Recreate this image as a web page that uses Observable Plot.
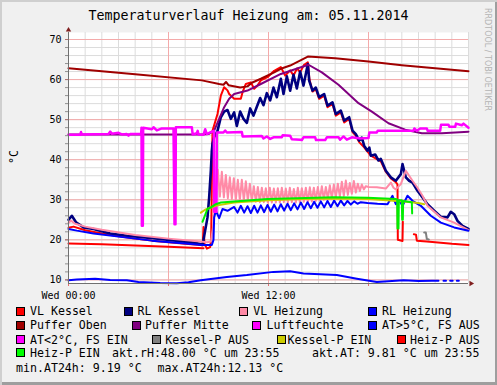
<!DOCTYPE html>
<html><head><meta charset="utf-8">
<script src="https://cdn.jsdelivr.net/npm/d3@7"></script>
<script src="https://cdn.jsdelivr.net/npm/@observablehq/plot@0.6"></script>
<style>
html,body{margin:0;padding:0;background:#f0f0f0;}
#chart{position:relative;width:497px;height:385px;background:#f0f0f0;overflow:hidden;font-family:"DejaVu Sans Mono",monospace;color:#000;
 box-shadow: inset 2px 2px 0 #cfcfcf, inset -2px -3px 0 #9e9e9e;}
#chart svg{position:absolute;left:0;top:0;overflow:visible;}
.t{position:absolute;white-space:pre;font-size:11.6px;line-height:14px;}
.sw{position:absolute;width:9px;height:9px;box-sizing:border-box;border:1px solid #000;}
</style></head>
<body>
<div id="chart"></div>
<script>
// ---------- texts ----------
const titleText = "Temperaturverlauf Heizung am: 05.11.2014";
const unitText = "°C";
const watermark = "RRDTOOL / TOBI OETIKER";
const xLabelHours = [0, 12];
const xTickLabels = ["Wed 00:00", "Wed 12:00"];
const yLabelTicks = [10, 20, 30, 40, 50, 60, 70];
const legendLabels = ["VL Kessel","RL Kessel","VL Heizung","RL Heizung","Puffer Oben","Puffer Mitte","Luftfeuchte","AT>5°C, FS AUS","AT<2°C, FS EIN","Kessel-P AUS","Kessel-P EIN","Heiz-P AUS","Heiz-P EIN"];
const legendColors = ["#ff0000","#000080","#ff8aa6","#0000ff","#a00000","#800080","#ff00ff","#0000ff","#ff00ff","#808080","#cccc00","#ff0000","#00ff00"];
const infoTexts = ["akt.rH:48.00 °C um 23:55","akt.AT: 9.81 °C um 23:55","min.AT24h: 9.19 °C","max.AT24h:12.13 °C"];

// ---------- series: [hour, value] ----------
const vlKessel = [[0,23.0],[0.3,23.3],[1,22.4],[2,21.6],[3,20.9],[4,20.3],[5,19.8],[6,19.4],[7,19.0],[7.95,18.7],[8.05,18.6],[8.1,23.2],[8.16,19.0],[8.3,17.8],[8.5,18.2],[8.56,20.3],[8.64,47.2],[8.94,51.4],[9.14,56.0],[9.34,58.1],[9.54,57.3],[9.64,56.4],[9.94,55.2],[10.34,55.2],[10.44,56.8],[10.64,58.9],[10.94,59.3],[11.14,57.7],[11.34,58.5],[11.54,59.8],[11.94,60.6],[12.34,62.2],[12.74,63.1],[13.0,61.0],[13.3,62.3],[13.5,61.0],[13.72,62.8],[13.9,61.8],[14.12,63.6],[14.36,64.3],[14.46,60.0],[14.64,57.0],[14.84,57.6],[15.04,55.2],[15.34,56.0],[15.54,53.1],[15.84,53.9],[16.04,51.0],[16.34,51.8],[16.54,49.3],[16.84,50.2],[17.04,46.9],[17.24,46.0],[17.44,44.4],[17.74,43.1],[17.94,42.0],[18.14,41.0],[18.74,39.6],[19.04,37.0],[19.34,35.3],[19.64,34.4],[19.74,33.8],[19.76,20.0],[20.04,19.7],[20.06,24.5],[20.1,NaN],[20.72,21.4],[20.85,21.3],[20.9,19.8],[21.5,19.6],[22,19.4],[23,19.0],[24,18.7]];
const rlKessel = [[0,25.0],[0.2,26.0],[0.45,24.4],[0.9,23.1],[1.5,22.7],[2.5,21.6],[3.5,21.0],[5.5,20.2],[7.5,19.3],[8.05,18.8],[8.34,25.6],[8.44,30.6],[8.54,37.2],[8.6,42.2],[8.64,44.0],[8.74,45.6],[8.94,47.2],[9.14,50.6],[9.34,52.0],[9.54,52.4],[9.74,50.2],[9.94,51.8],[10.1,48.4],[10.3,52.0],[10.5,50.2],[10.7,49.2],[10.9,52.8],[11.1,51.0],[11.3,53.2],[11.5,55.4],[11.7,53.6],[11.9,56.6],[12.1,54.8],[12.3,58.0],[12.5,55.6],[12.74,60.2],[12.9,56.4],[13.1,60.8],[13.3,57.2],[13.5,61.2],[13.7,57.8],[13.9,62.0],[14.1,58.5],[14.36,63.9],[14.44,59.75],[14.64,57.25],[14.84,58.0],[15.04,55.6],[15.34,56.4],[15.54,53.5],[15.84,54.3],[16.04,51.4],[16.34,52.25],[16.54,49.75],[16.84,50.6],[17.04,47.25],[17.24,46.4],[17.44,44.75],[17.6,45.5],[17.74,43.5],[17.94,42.25],[18.05,43.0],[18.14,41.0],[18.4,41.3],[18.6,39.8],[18.74,40.2],[19.04,37.25],[19.34,35.6],[19.64,34.75],[19.94,36.4],[20.04,38.9],[20.14,37.25],[20.24,35.6],[20.44,34.75],[20.64,34.3],[20.94,32.25],[21.24,30.6],[21.54,28.9],[21.94,27.25],[22.34,25.75],[22.74,25.6],[22.94,27.0],[23.14,26.4],[23.34,24.75],[23.64,23.5],[24,22.7]];
const vlHeizung = [[0,24.2],[0.15,24.8],[0.4,24.0],[1,23.3],[2,22.5],[4,21.2],[6,20.3],[7.9,19.6],[8.3,19.4],[8.55,19.6],[8.7,24],[8.85,33],[8.96,37.5],[9.08,30.8],[9.2,37.0],[9.32,30.6],[9.44,36.2],[9.56,30.4],[9.68,35.6],[9.8,30.2],[9.92,35.4],[10.04,30.0],[10.16,35.0],[10.28,29.9],[10.4,35.0],[10.52,29.8],[10.64,34.6],[10.76,29.8],[10.88,34.0],[11.0,29.6],[11.12,33.4],[11.24,29.5],[11.36,33.2],[11.48,29.4],[11.6,33.0],[11.72,29.4],[11.84,32.9],[11.96,29.3],[12.08,33.0],[12.2,29.3],[12.32,32.8],[12.44,29.3],[12.56,32.9],[12.68,29.3],[12.8,33.0],[12.92,29.4],[13.04,32.8],[13.16,29.3],[13.28,33.0],[13.4,29.4],[13.52,32.7],[13.64,29.3],[13.76,33.0],[13.88,29.4],[14.0,32.9],[14.12,29.5],[14.24,33.0],[14.36,29.4],[14.48,33.1],[14.6,29.6],[14.72,33.0],[14.84,29.7],[14.96,33.2],[15.08,29.9],[15.2,33.4],[15.32,30.0],[15.44,33.2],[15.56,30.2],[15.68,33.6],[15.8,30.3],[15.92,33.8],[16.04,30.6],[16.16,34.0],[16.28,30.8],[16.4,34.5],[16.52,31.0],[16.64,34.8],[16.76,31.2],[16.88,34.2],[17.0,31.5],[17.12,34.7],[17.24,31.8],[17.36,34.0],[17.48,32.2],[17.6,33.8],[17.72,32.6],[17.84,33.4],[18.0,33.2],[18.5,33.1],[19.04,32.8],[19.34,34.3],[19.5,33.0],[19.64,32.6],[19.94,33.9],[20.24,37.25],[20.44,36.0],[20.64,34.75],[20.94,33.0],[21.24,31.0],[21.54,28.5],[22.0,26.8],[22.34,25.6],[23.14,24.3],[24,22.4]];
const rlHeizung = [[0,22.7],[0.5,22.3],[1.5,21.6],[3,20.8],[5,19.8],[7,19.1],[8,18.7],[8.6,18.7],[8.7,20],[8.74,25.6],[8.84,27.25],[9.04,25.4],[9.24,27.7],[9.54,27.25],[9.94,28.2],[10.14,26.8],[10.34,28.5],[10.54,26.8],[10.74,28.4],[10.94,26.7],[11.14,28.5],[11.34,26.8],[11.54,28.6],[11.74,26.9],[11.94,28.7],[12.14,27.0],[12.34,28.8],[12.54,27.1],[12.74,28.9],[12.94,27.3],[13.14,29.0],[13.34,27.4],[13.54,29.1],[13.74,27.6],[13.94,29.3],[14.14,27.7],[14.34,29.4],[14.54,27.9],[14.74,29.5],[14.94,28.0],[15.14,29.6],[15.34,28.1],[15.54,29.7],[15.74,28.2],[15.94,29.8],[16.14,28.4],[16.34,29.8],[16.54,28.6],[16.74,29.7],[16.94,28.8],[17.14,29.6],[17.34,29.0],[17.54,29.4],[17.94,29.2],[18.54,29.0],[19.14,28.9],[19.44,31.0],[19.64,28.9],[19.84,29.8],[20.04,28.5],[20.34,31.0],[20.64,29.75],[21.14,28.5],[21.74,26.0],[22.34,24.3],[23.14,23.1],[24,22.25]];
const pufferOben = [[0,62.8],[4,61.3],[8,59.8],[9.04,58.9],[9.3,58.7],[9.45,59.4],[9.6,58.6],[10.3,58.0],[10.74,58.3],[11.0,59.2],[11.54,60.2],[12.34,61.8],[12.74,62.7],[13.3,63.5],[14.36,65.75],[16,65.3],[18,64.5],[20,63.6],[22,62.8],[24,62.1]];
const pufferMitte = [[0,46.3],[4,46.3],[8.0,46.3],[8.4,46.4],[8.74,47.25],[9.04,50.2],[9.34,53.1],[9.64,55.2],[9.94,56.4],[10.74,57.25],[11.54,58.9],[12.74,61.4],[13.68,62.7],[14.4,63.7],[15.2,61.8],[16.2,58.7],[17.4,54.1],[18.2,52.0],[19.2,49.1],[20.2,47.5],[21.2,46.6],[22.4,46.6],[24,47.0]];
const luftfeuchte = [[0,46.2],[0.7,46.2],[0.75,46.9],[0.8,46.3],[2.4,46.4],[2.5,47.0],[2.6,46.5],[3.0,46.7],[3.2,46.3],[3.5,46.4],[3.6,46.0],[3.7,46.4],[4.36,46.5],[4.38,48.0],[4.40,23.5],[4.46,23.5],[4.48,48.0],[5.0,47.6],[5.1,48.1],[5.3,47.3],[5.6,47.8],[6.3,47.8],[6.36,23.9],[6.42,23.9],[6.44,48.1],[7.4,48.1],[7.45,46.3],[7.7,46.6],[7.75,47.2],[7.8,46.3],[8.1,46.2],[8.2,47.6],[8.3,46.4],[8.5,46.8],[8.72,47.2],[8.74,27.0],[8.88,27.0],[8.9,46.8],[9.3,46.8],[9.4,47.3],[9.5,46.8],[10.4,46.9],[10.45,45.8],[11.6,45.9],[11.7,45.3],[11.9,45.8],[12.1,45.2],[12.3,45.6],[12.8,45.6],[12.85,46.1],[13.3,46.0],[13.4,45.1],[13.9,45.0],[14.0,44.9],[14.1,45.6],[14.8,45.6],[14.85,44.9],[15.4,44.9],[15.5,45.6],[16.2,45.6],[16.3,45.0],[16.5,45.8],[16.7,45.0],[17.0,45.6],[17.5,45.3],[18.0,45.4],[18.05,46.8],[18.5,46.8],[18.55,47.25],[20.7,47.25],[20.75,47.8],[20.9,47.2],[21.1,47.8],[21.5,47.8],[21.55,47.2],[22.3,47.2],[22.35,48.7],[22.8,48.7],[22.85,48.2],[23.2,48.2],[23.25,49.0],[23.6,48.6],[23.7,49.0],[24,48.0]];
const atOutside = [[0,9.9],[0.5,10.1],[1.6,10.3],[2.5,10.0],[3.5,9.9],[4.2,9.5],[5.5,9.25],[6.5,9.19],[7.2,9.4],[7.94,9.9],[9.5,10.75],[10.7,11.2],[12.3,12.0],[13.3,12.13],[14.1,11.6],[16.1,11.2],[17.3,10.3],[18.5,9.5],[20.1,9.9],[21.0,9.7],[21.8,9.8],[22.0,9.8],[22.2,9.8],[22.25,NaN],[22.5,9.8],[22.65,9.8],[22.7,NaN],[22.9,9.8],[23.05,9.8],[23.1,NaN],[23.3,9.81],[23.42,9.81]];
const kesselPAus = [[21.34,21.8],[21.44,21.8],[21.5,20.2],[21.62,20.1]];
const kesselPEin = [[7.94,26.8],[8.2,27.5],[8.5,28.0],[8.94,28.6],[9.94,29.3],[12,29.9],[14,30.2],[16,30.3],[18,30.2],[19.94,29.6],[21,29.2],[21.34,28.9]];
const heizPAus = [[0,19.1],[2,18.9],[4,18.6],[6,18.3],[8.1,17.9]];
const heizPEin = [[8.04,24.5],[8.34,27.7],[8.54,28.1],[8.84,28.9],[9.14,29.3],[11.94,30.2],[15.94,30.6],[17.94,30.5],[19.64,30.2],[19.72,30.1],[19.74,22.8],[19.8,22.8],[19.82,29.9],[20.0,29.9],[20.02,25.0],[20.06,25.0],[20.08,29.7],[20.6,29.4],[20.62,26.6]];

// ---------- scale / grid values ----------
const yMin = 9.1, yMax = 71.75;
const yMinorGrid = d3.range(10, 71, 2);
const xMinorGrid = d3.range(1, 25, 1);
const yMajorGrid = [10, 20, 30, 40, 50, 60, 70];
const xMajorGrid = [6, 12, 18];

const ln = (data, stroke, w = 2) => Plot.line(data, {x: d => d[0], y: d => d[1], stroke, strokeWidth: w, curve: "linear"});

const plot = Plot.plot({
  width: 497, height: 305,
  marginLeft: 68, marginRight: 29, marginTop: 32, marginBottom: 22,
  x: {domain: [0, 24]},
  y: {domain: [yMin, yMax]},
  style: {background: "transparent", fontFamily: "DejaVu Sans Mono", fontSize: "10px", color: "#000"},
  marks: [
    Plot.frame({fill: "#ffffff", stroke: null}),
    Plot.ruleY(yMinorGrid, {stroke: "#dcdcdc"}),
    Plot.ruleX(xMinorGrid, {stroke: "#dcdcdc"}),
    Plot.ruleY(yMajorGrid, {stroke: "#f4aaaa"}),
    Plot.ruleX(xMajorGrid, {stroke: "#f4aaaa"}),
    ln(vlKessel, legendColors[0], 2),
    ln(rlKessel, legendColors[1], 2.6),
    ln(vlHeizung, legendColors[2], 2),
    ln(rlHeizung, legendColors[3], 2),
    ln(pufferOben, legendColors[4], 2),
    ln(pufferMitte, legendColors[5], 2),
    ln(luftfeuchte, legendColors[6], 2.5),
    ln(atOutside, legendColors[7], 2),
    ln(kesselPAus, legendColors[9], 2),
    ln(kesselPEin, legendColors[10], 2),
    ln(heizPAus, legendColors[11], 2),
    ln(heizPEin, "#00ee00", 2),
    Plot.axisY({ticks: yMinorGrid, tickSize: 3, tickFormat: () => "", stroke: "#909090", label: null}),
    Plot.axisY({ticks: yLabelTicks, tickSize: 3, tickPadding: 4, stroke: "#b07070", label: null}),
    Plot.axisX({ticks: [0, 6, 12, 18], tickSize: 3, tickFormat: () => "", stroke: "#e07070", label: null}),
    Plot.axisX({ticks: xLabelHours, tickSize: 0, tickPadding: 8, tickFormat: d => xTickLabels[xLabelHours.indexOf(d)], label: null}),
    Plot.ruleX([0], {stroke: "#707070", y1: yMin, y2: yMax}),
    Plot.ruleY([yMin], {stroke: "#707070"}),
    Plot.dot([0], {x: d => d, y: () => yMax, symbol: "triangle", r: 2, fill: "#801f1f", stroke: null, dy: -2.5}),
    Plot.dot([24], {x: d => d, y: () => yMin, symbol: "triangle", r: 2, fill: "#801f1f", stroke: null, rotate: 90, dx: 2.5})
  ]
});

const chart = document.getElementById("chart");
chart.appendChild(plot);

function addText(txt, left, top, extra = "") {
  const d = document.createElement("div");
  d.className = "t";
  d.textContent = txt;
  d.style.left = left + "px";
  d.style.top = top + "px";
  if (extra) d.style.cssText += extra;
  chart.appendChild(d);
  return d;
}
// title
addText(titleText, 0, 8.4, "width:497px;text-align:center;font-size:13.3px;line-height:16px;");
// unit
addText(unitText, -1, 149.5, "width:30px;text-align:center;transform:rotate(-90deg);");
// watermark
addText(watermark, 482.5, 8, "writing-mode:vertical-rl;font-family:'DejaVu Sans',sans-serif;font-size:8px;line-height:9px;color:#b4b4b4;");

// legend
const rowTop = [304.2, 318.2, 332.5, 345.9, 360.5];
const legendPos = [[16,30],[124,137.6],[239.3,253.3],[368.3,382],[16,30],[131.7,145],[252.3,266.6],[368.3,382],[16,30],[151.7,165.3],[276.7,287.6],[396.7,410],[16,30]];
legendLabels.forEach((lab, i) => {
  const row = Math.floor(i / 4);
  const sw = document.createElement("div");
  sw.className = "sw";
  sw.style.left = legendPos[i][0] + "px";
  sw.style.top = (rowTop[row] + 2.3) + "px";
  sw.style.background = legendColors[i];
  chart.appendChild(sw);
  addText(lab, legendPos[i][1], rowTop[row]);
});
const infoPos = [[112, 3], [312, 3], [16, 4], [157.6, 4]];
infoTexts.forEach((txt, i) => addText(txt, infoPos[i][0], rowTop[infoPos[i][1]]));
</script>
</body></html>
